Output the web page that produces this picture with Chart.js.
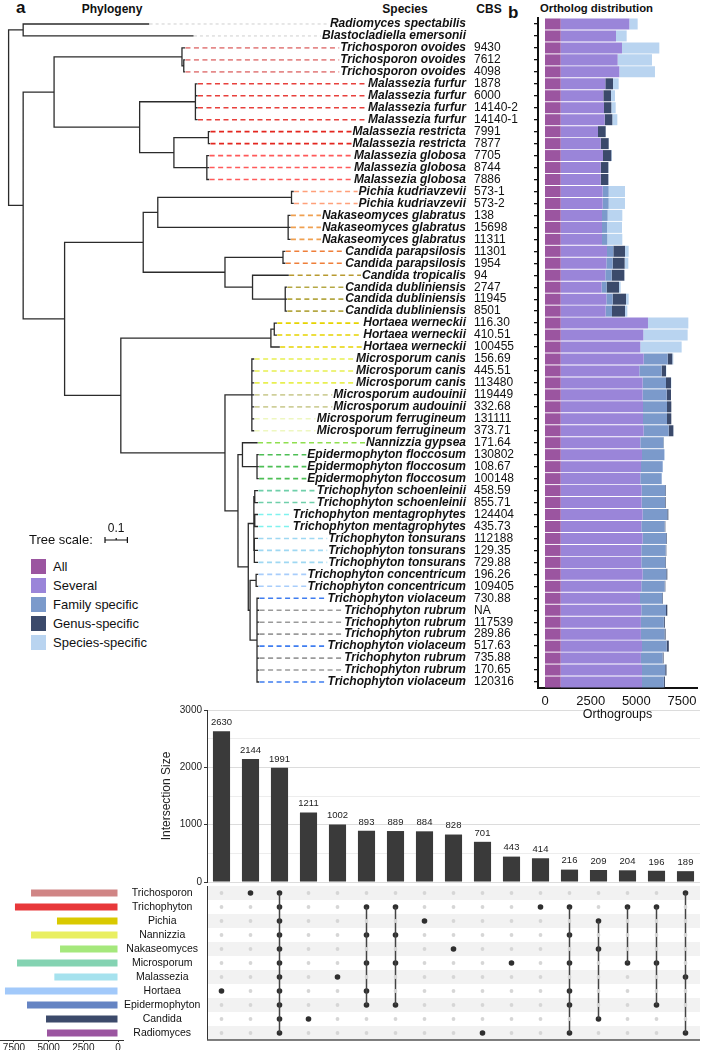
<!DOCTYPE html>
<html lang="en">
<head>
<meta charset="UTF-8">
<title>Phylogeny, ortholog distribution and shared orthogroups</title>
<script src="https://cdn.jsdelivr.net/npm/chart.js"></script>
<style>
  html, body { margin: 0; padding: 0; background: #fff; }
  body { position: relative; width: 719px; height: 1050px; overflow: hidden;
         font-family: "Liberation Sans", Arial, Helvetica, sans-serif; color: #111; }
  canvas { position: absolute; }
  .lbl { position: absolute; white-space: nowrap; line-height: 1; }
  .head { font-weight: bold; font-size: 12px; }
  .panel { font-weight: bold; font-size: 17px; }
  .legend { position: absolute; left: 31px; top: 557px; font-size: 13px; }
  .legend div { height: 19px; display: flex; align-items: center; white-space: nowrap; }
  .legend span { display: inline-block; width: 15px; height: 15px; margin-right: 7px; }
</style>
</head>
<body>
<div class="lbl panel" style="left:16px;top:-1px">a</div>
<div class="lbl head" style="left:62px;top:3px;width:100px;text-align:center">Phylogeny</div>
<div class="lbl head" style="left:355px;top:3px;width:100px;text-align:center">Species</div>
<div class="lbl head" style="left:469px;top:3px;width:40px;text-align:center">CBS</div>
<div class="lbl panel" style="left:508px;top:4px">b</div>
<div class="lbl head" style="left:540px;top:3px;font-size:11.3px">Ortholog distribution</div>
<div class="legend" id="legend"></div>

<canvas id="tree" width="535" height="700" style="left:0;top:0"></canvas>
<canvas id="upset" width="569" height="200" style="left:150px;top:690px"></canvas>
<canvas id="matrix" width="569" height="184" style="left:150px;top:876px"></canvas>
<canvas id="sets" width="201" height="184" style="left:0;top:876px"></canvas>
<canvas id="bars" width="199" height="730" style="left:520px;top:0"></canvas>

<script>
// ---- panel a / b : one row per genome ----
const species = [
  'Radiomyces spectabilis', 'Blastocladiella emersonii',
  'Trichosporon ovoides', 'Trichosporon ovoides', 'Trichosporon ovoides',
  'Malassezia furfur', 'Malassezia furfur', 'Malassezia furfur', 'Malassezia furfur',
  'Malassezia restricta', 'Malassezia restricta',
  'Malassezia globosa', 'Malassezia globosa', 'Malassezia globosa',
  'Pichia kudriavzevii', 'Pichia kudriavzevii',
  'Nakaseomyces glabratus', 'Nakaseomyces glabratus', 'Nakaseomyces glabratus',
  'Candida parapsilosis', 'Candida parapsilosis', 'Candida tropicalis',
  'Candida dubliniensis', 'Candida dubliniensis', 'Candida dubliniensis',
  'Hortaea werneckii', 'Hortaea werneckii', 'Hortaea werneckii',
  'Microsporum canis', 'Microsporum canis', 'Microsporum canis',
  'Microsporum audouinii', 'Microsporum audouinii',
  'Microsporum ferrugineum', 'Microsporum ferrugineum',
  'Nannizzia gypsea',
  'Epidermophyton floccosum', 'Epidermophyton floccosum', 'Epidermophyton floccosum',
  'Trichophyton schoenleinii', 'Trichophyton schoenleinii',
  'Trichophyton mentagrophytes', 'Trichophyton mentagrophytes',
  'Trichophyton tonsurans', 'Trichophyton tonsurans', 'Trichophyton tonsurans',
  'Trichophyton concentricum', 'Trichophyton concentricum',
  'Trichophyton violaceum', 'Trichophyton rubrum', 'Trichophyton rubrum', 'Trichophyton rubrum',
  'Trichophyton violaceum', 'Trichophyton rubrum', 'Trichophyton rubrum', 'Trichophyton violaceum'
];
const cbs = [
  '', '', '9430', '7612', '4098', '1878', '6000', '14140-2', '14140-1', '7991', '7877',
  '7705', '8744', '7886', '573-1', '573-2', '138', '15698', '11311', '11301', '1954', '94',
  '2747', '11945', '8501', '116.30', '410.51', '100455', '156.69', '445.51', '113480',
  '119449', '332.68', '131111', '373.71', '171.64', '130802', '108.67', '100148', '458.59',
  '855.71', '124404', '435.73', '112188', '129.35', '729.88', '196.26', '109405', '730.88',
  'NA', '117539', '289.86', '517.63', '735.88', '170.65', '120316'
];

// tree (leaf names = row index), branch lengths in substitutions per site
const treeNewick = "((0:0.560,1:0.758):0.065,(((2:0.011,(3:0.003,4:0.003):0.008):0.571,((5:0.007,6:0.007,7:0.007,8:0.007):0.249,((9:0.005,10:0.005):0.154,(11:0.008,12:0.008,13:0.008):0.147):0.153):0.382):0.138,((((14:0.007,15:0.007):0.597,(16:0.008,17:0.008,18:0.008):0.582):0.065,((19:0.008,20:0.008):0.259,(21:0.159,(22:0.005,23:0.005,24:0.005):0.146):0.123):0.365):0.351,(((25:0.009,26:0.009):0.015,27:0.037):0.670,((28:0.008,29:0.008,30:0.008,31:0.008,32:0.008,33:0.008,34:0.008):0.120,((35:0.065,(36:0.005,37:0.005,38:0.005):0.065):0.020,(((39:0.012,40:0.012):0.004,(41:0.012,42:0.012):0.004,(43:0.014,44:0.014,45:0.014):0.002):0.025,((46:0.007,47:0.007):0.027,(48:0.007,49:0.007,50:0.007,51:0.007,52:0.007,53:0.007,54:0.007,55:0.007):0.031):0.008):0.046):0.058):0.465):0.251):0.185):0.065);";
const treeScaleLength = 0.1;

const leaderColors = {
  'Radiomyces spectabilis': '#cfcfcf', 'Blastocladiella emersonii': '#cfcfcf',
  'Trichosporon ovoides': '#e58a8a', 'Malassezia furfur': '#e8403c',
  'Malassezia restricta': '#e3261f', 'Malassezia globosa': '#ff5a5a',
  'Pichia kudriavzevii': '#ffa07a', 'Nakaseomyces glabratus': '#f0a050',
  'Candida parapsilosis': '#ef7f3a', 'Candida tropicalis': '#b89a30',
  'Candida dubliniensis': '#b5a844', 'Hortaea werneckii': '#e6d400',
  'Microsporum canis': '#e8ef50', 'Microsporum audouinii': '#cfcf9a',
  'Microsporum ferrugineum': '#eef7c0', 'Nannizzia gypsea': '#8fdf4f',
  'Epidermophyton floccosum': '#4dbf55', 'Trichophyton schoenleinii': '#6fcfaa',
  'Trichophyton mentagrophytes': '#7ff2ee', 'Trichophyton tonsurans': '#9fd8f2',
  'Trichophyton concentricum': '#a8cdfb', 'Trichophyton violaceum': '#3f7df0',
  'Trichophyton rubrum': '#9a9a9a'
};

// ortholog distribution (orthogroups per genome)
const distLabels = ['All', 'Several', 'Family specific', 'Genus-specific', 'Species-specific'];
const distColors = ['#9b55a0', '#9a85d9', '#7b9acb', '#3b4a6b', '#b9d4f0'];
const orthoAll = [858,858,858,858,858,858,858,858,858,858,858,858,858,858,858,858,858,858,858,858,858,858,858,858,858,858,858,858,858,858,858,858,858,858,858,858,858,858,858,858,858,858,858,858,858,858,858,858,858,858,858,858,858,858,858,858];
const orthoSeveral = [3758,3028,3356,3119,3210, 2444,2335,2371,2408, 2043,2189, 2316,2189,2189, 2298,2298, 2262,2262,2262, 2535,2499, 2444, 2243,2499,2462, 4779,4524,4360, 4542,4305,4487, 4487,4506, 4506,4542, 4360, 4451,4396,4360, 4433,4433, 4487,4414, 4487,4414,4414, 4487,4414, 4341, 4414,4392,4392, 4451, 4392,4451, 4451];
const orthoFamily = [0,0,0,0,0, 0,0,0,0, 0,0, 0,0,0, 329,329, 310,273,291, 347,346, 347, 274,346,347, 0,0,0, 1314,1222,1277, 1314,1313, 1313,1368, 1258, 1222,1186,1167, 1295,1277, 1350,1277, 1295,1332,1314, 1295,1277, 1223, 1350,1254,1292, 1350, 1190,1271, 1195];
const orthoGenus = [0,0,0,0,0, 420,419,401,419, 419,438, 456,419,419, 0,0, 0,0,0, 638,657, 693, 675,730,711, 0,0,0, 255,237,274, 237,237, 237,256, 19, 0,0,0, 36,36, 55,37, 37,36,36, 55,37, 36, 73,55,60, 118, 50,70, 60];
const orthoSpecies = [456,584,2044,1879,1952, 310,219,238,274, 19,18, 37,19,19, 893,893, 802,821,821, 201,201, 18, 91,146,128, 2208,2426,2262, 55,18,18, 0,0, 0,18, 18, 18,18,18, 0,0, 0,0, 0,0,0, 0,0, 0, 0,0,0, 0, 0,0, 0];
const orthoTicks = [0, 2500, 5000, 7500];

// ---- panel c : upset plot ----
const setNames = ['Trichosporon', 'Trichophyton', 'Pichia', 'Nannizzia', 'Nakaseomyces', 'Microsporum',
                  'Malassezia', 'Hortaea', 'Epidermophyton', 'Candida', 'Radiomyces'];
const setSizes = [6270, 7430, 4400, 6270, 4180, 7280, 4590, 8150, 6560, 5190, 5120];
const setColors = ['#d08585', '#e8383a', '#d9c900', '#e9ef62', '#a5e87c', '#84d3b2',
                   '#a6e2ee', '#a2c9fa', '#6584c3', '#3c4a6b', '#9b55a0'];
const setTicks = [0, 2500, 5000, 7500];
const intersectionSizes = [2630, 2144, 1991, 1211, 1002, 893, 889, 884, 828, 701, 443, 414, 216, 209, 204, 196, 189];
const intersectionMembers = [
  [7], [0], [0,1,2,3,4,5,6,7,8,9,10], [9], [6], [1,3,5,7,8], [1,3,5,8], [2], [4], [10],
  [5], [1], [1,3,5,7,8,10], [2,4,9], [1,5], [1,5,8], [0,6,10]
];

Chart.defaults.font.family = '"Liberation Sans", Arial, Helvetica, sans-serif';
Chart.defaults.color = '#111';

// legend of panel b
const legendBox = document.getElementById('legend');
distLabels.forEach((name, i) => {
  const row = document.createElement('div');
  row.innerHTML = '<span style="background:' + distColors[i] + '"></span>' + name;
  legendBox.appendChild(row);
});

// ---- tree geometry from the newick string ----
function parseNewick(s) {
  let i = 0;
  function node() {
    const n = { children: [], len: 0 };
    if (s[i] === '(') {
      i++;
      n.children.push(node());
      while (s[i] === ',') { i++; n.children.push(node()); }
      i++;
    }
    let name = '';
    while (i < s.length && !':,);'.includes(s[i])) name += s[i++];
    if (name !== '') n.leaf = +name;
    if (s[i] === ':') {
      i++;
      let num = '';
      while (i < s.length && !',);'.includes(s[i])) num += s[i++];
      n.len = +num;
    }
    return n;
  }
  return node();
}

const tipX = [];
const treeSegments = [];
function place(n, depth) {
  n.x = depth + n.len;
  if (n.children.length) {
    n.children.forEach(c => place(c, n.x));
    n.y = (n.children[0].y + n.children[n.children.length - 1].y) / 2;
  } else {
    n.y = n.leaf;
    tipX[n.leaf] = n.x;
  }
}
function collect(n) {
  if (!n.children.length) return;
  const first = n.children[0], last = n.children[n.children.length - 1];
  treeSegments.push({x: n.x, y: first.y}, {x: n.x, y: last.y}, {x: null, y: null});
  n.children.forEach(c => {
    treeSegments.push({x: n.x, y: c.y}, {x: c.x, y: c.y}, {x: null, y: null});
    collect(c);
  });
}
const treeRoot = parseNewick(treeNewick);
place(treeRoot, 0);
collect(treeRoot);

// species names, CBS numbers, dashed leaders and the tree scale
const treeLabels = {
  id: 'treeLabels',
  afterDatasetsDraw(chart) {
    const {ctx, chartArea, scales: {x, y}} = chart;
    ctx.save();
    ctx.textBaseline = 'middle';
    species.forEach((name, i) => {
      const py = y.getPixelForValue(i);
      ctx.font = 'italic bold 12px "Liberation Sans", Arial, sans-serif';
      const w = ctx.measureText(name).width;
      const x0 = x.getPixelForValue(tipX[i]) + 1;
      const x1 = chartArea.right - w - 1;
      const grey = i < 2;
      ctx.strokeStyle = leaderColors[name];
      ctx.lineWidth = grey ? 1 : 1.6;
      ctx.setLineDash(grey ? [3, 3] : [5, 3.5]);
      ctx.beginPath();
      ctx.moveTo(x0, py);
      ctx.lineTo(x1, py);
      ctx.stroke();
      ctx.setLineDash([]);
      ctx.fillStyle = '#111';
      ctx.textAlign = 'right';
      ctx.fillText(name, chartArea.right, py);
      ctx.font = '12px "Liberation Sans", Arial, sans-serif';
      ctx.textAlign = 'left';
      ctx.fillText(cbs[i], chartArea.right + 8, py);
    });
    // tree scale
    const sx0 = 105, sy = 540;
    const sx1 = x.getPixelForValue(x.getValueForPixel(sx0) + treeScaleLength);
    ctx.font = '13px "Liberation Sans", Arial, sans-serif';
    ctx.textAlign = 'left';
    ctx.fillText('Tree scale:', 29, sy);
    ctx.font = '12px "Liberation Sans", Arial, sans-serif';
    ctx.textAlign = 'center';
    ctx.fillText(String(treeScaleLength), (sx0 + sx1) / 2, sy - 11);
    ctx.strokeStyle = '#111';
    ctx.lineWidth = 1.2;
    ctx.beginPath();
    ctx.moveTo(sx0, sy); ctx.lineTo(sx1, sy);
    ctx.moveTo(sx0, sy - 3); ctx.lineTo(sx0, sy + 3);
    ctx.moveTo(sx1, sy - 3); ctx.lineTo(sx1, sy + 3);
    ctx.moveTo((sx0 + sx1) / 2, sy - 2); ctx.lineTo((sx0 + sx1) / 2, sy);
    ctx.stroke();
    ctx.restore();
  }
};

new Chart(document.getElementById('tree'), {
  type: 'scatter',
  data: {
    datasets: [{
      data: treeSegments,
      showLine: true,
      spanGaps: false,
      borderColor: '#2b2b2b',
      borderWidth: 1.3,
      borderCapStyle: 'square',
      pointRadius: 0
    }]
  },
  options: {
    responsive: false,
    animation: false,
    events: [],
    layout: { padding: { top: 18, bottom: 12, left: 0, right: 69 } },
    scales: {
      x: { type: 'linear', display: false, min: -0.0384, max: 2.042 },
      y: { type: 'linear', display: false, min: -0.5, max: 55.5, reverse: true }
    },
    plugins: { legend: { display: false }, tooltip: { enabled: false } }
  },
  plugins: [treeLabels]
});

// ---- stacked ortholog bars ----
const orthoSeries = [orthoAll, orthoSeveral, orthoFamily, orthoGenus, orthoSpecies];
new Chart(document.getElementById('bars'), {
  type: 'bar',
  data: {
    labels: species.map((s, i) => s + ' ' + cbs[i]),
    datasets: orthoSeries.map((d, i) => ({
      label: distLabels[i],
      data: d,
      backgroundColor: distColors[i],
      borderWidth: 0,
      categoryPercentage: 1,
      barPercentage: 0.92
    }))
  },
  options: {
    indexAxis: 'y',
    responsive: false,
    animation: false,
    events: [],
    layout: { padding: { top: 18, right: 22, left: 0, bottom: 0 } },
    scales: {
      x: {
        stacked: true,
        min: -383,
        max: 8320,
        afterBuildTicks: s => { s.ticks = orthoTicks.map(v => ({ value: v })); },
        afterFit: s => { s.height = 42; },
        ticks: { font: { size: 13 }, color: '#111', padding: 6, maxRotation: 0,
                 callback: v => String(v) },
        grid: { display: false, drawTicks: false },
        border: { color: '#111', width: 2 },
        title: { display: true, text: 'Orthogroups', font: { size: 12.5 }, color: '#111',
                 padding: { top: 0, bottom: 7.5 } }
      },
      y: {
        stacked: true,
        afterFit: s => { s.width = 18; },
        ticks: { display: false },
        grid: { offset: false, drawOnChartArea: false, drawTicks: true, tickLength: 4,
                color: '#111', lineWidth: 1.3 },
        border: { color: '#111', width: 2 }
      }
    },
    plugins: { legend: { display: false }, tooltip: { enabled: false } }
  }
});

// ---- upset: intersection sizes ----
const barValueLabels = {
  id: 'barValueLabels',
  afterDatasetsDraw(chart) {
    const {ctx} = chart;
    const meta = chart.getDatasetMeta(0);
    ctx.save();
    ctx.font = '9.5px "Liberation Sans", Arial, sans-serif';
    ctx.fillStyle = '#222';
    ctx.textAlign = 'center';
    ctx.textBaseline = 'bottom';
    meta.data.forEach((bar, i) => ctx.fillText(intersectionSizes[i], bar.x, bar.y - 4));
    ctx.restore();
  }
};

new Chart(document.getElementById('upset'), {
  type: 'bar',
  data: {
    labels: intersectionSizes.map((v, i) => 'intersection ' + (i + 1)),
    datasets: [{
      data: intersectionSizes,
      backgroundColor: '#3a3a3a',
      categoryPercentage: 1,
      barPercentage: 0.59
    }]
  },
  options: {
    responsive: false,
    animation: false,
    events: [],
    layout: { padding: { top: 20, right: 19, bottom: 4, left: 0 } },
    scales: {
      x: { display: false },
      y: {
        min: 0,
        max: 3000,
        afterFit: s => { s.width = 57; },
        ticks: { stepSize: 500, font: { size: 10 }, color: '#222', padding: 2,
                 callback: v => (v % 1000 === 0 ? String(v) : '') },
        grid: {
          color: c => (c.tick && c.tick.value % 1000 === 0 ? '#dcdcdc' : '#ededed'),
          tickColor: c => (c.tick && c.tick.value % 1000 === 0 ? '#333' : 'rgba(0,0,0,0)'),
          tickLength: 3
        },
        border: { color: '#333', width: 1 },
        title: { display: true, text: 'Intersection Size', font: { size: 12 }, color: '#222',
                 padding: { top: 9, bottom: 0 } }
      }
    },
    plugins: { legend: { display: false }, tooltip: { enabled: false } }
  },
  plugins: [barValueLabels]
});

// ---- upset: membership matrix ----
const inactiveDots = [], activeDots = [], memberLinks = [];
intersectionMembers.forEach((members, c) => {
  setNames.forEach((s, r) => (members.includes(r) ? activeDots : inactiveDots).push({ x: c, y: r }));
  if (members.length > 1) {
    memberLinks.push({ x: c, y: Math.min(...members) }, { x: c, y: Math.max(...members) }, { x: null, y: null });
  }
});

const matrixFrame = {
  id: 'matrixFrame',
  beforeDatasetsDraw(chart) {
    const {ctx, chartArea: a, scales: {y}} = chart;
    ctx.save();
    ctx.fillStyle = '#f2f2f2';
    setNames.forEach((s, r) => {
      if (r % 2 === 0) {
        const t = y.getPixelForValue(r - 0.5), b = y.getPixelForValue(r + 0.5);
        ctx.fillRect(a.left, Math.min(t, b), a.right - a.left, Math.abs(b - t));
      }
    });
    ctx.strokeStyle = '#333';
    ctx.lineWidth = 1;
    ctx.beginPath();
    ctx.moveTo(a.left + 0.5, a.top);
    ctx.lineTo(a.left + 0.5, a.bottom);
    ctx.stroke();
    ctx.strokeStyle = '#555';
    ctx.lineWidth = 1.3;
    ctx.beginPath();
    ctx.moveTo(a.left, a.bottom);
    ctx.lineTo(a.right, a.bottom);
    ctx.stroke();
    ctx.restore();
  }
};

new Chart(document.getElementById('matrix'), {
  type: 'scatter',
  data: {
    datasets: [
      { data: inactiveDots, pointRadius: 1.9, backgroundColor: '#d6d6d6', borderWidth: 0 },
      { data: memberLinks, showLine: true, spanGaps: false, pointRadius: 0,
        borderColor: '#444', borderWidth: 1.5 },
      { data: activeDots, pointRadius: 2.8, backgroundColor: '#2e2e2e', borderWidth: 0 }
    ]
  },
  options: {
    responsive: false,
    animation: false,
    events: [],
    layout: { padding: { top: 10, bottom: 20, left: 57, right: 19 } },
    scales: {
      x: { type: 'linear', display: false, min: -0.5, max: intersectionSizes.length - 0.5 },
      y: { type: 'linear', display: false, min: -0.5, max: setNames.length - 0.5, reverse: true }
    },
    plugins: { legend: { display: false }, tooltip: { enabled: false } }
  },
  plugins: [matrixFrame]
});

// ---- upset: set sizes ----
new Chart(document.getElementById('sets'), {
  type: 'bar',
  data: {
    labels: setNames,
    datasets: [{
      data: setSizes,
      backgroundColor: setColors,
      categoryPercentage: 1,
      barPercentage: 0.5
    }]
  },
  options: {
    indexAxis: 'y',
    responsive: false,
    animation: false,
    events: [],
    layout: { padding: { top: 10, bottom: 0, left: 0, right: 0 } },
    scales: {
      x: {
        reverse: true,
        min: -360,
        max: 8508,
        afterBuildTicks: s => { s.ticks = setTicks.map(v => ({ value: v })); },
        afterFit: s => { s.height = 20; },
        ticks: { font: { size: 10 }, color: '#222', padding: 0, maxRotation: 0,
                 callback: v => String(v) },
        grid: { drawOnChartArea: false, drawTicks: true, tickLength: 2, color: '#333' },
        border: { color: '#333', width: 1 }
      },
      y: {
        position: 'right',
        afterFit: s => { s.width = 78; },
        ticks: { font: { size: 10.5 }, color: '#111', crossAlign: 'center', padding: 1,
                 autoSkip: false },
        grid: { display: false, drawTicks: false },
        border: { display: false }
      }
    },
    plugins: { legend: { display: false }, tooltip: { enabled: false } }
  }
});
</script>
</body>
</html>
